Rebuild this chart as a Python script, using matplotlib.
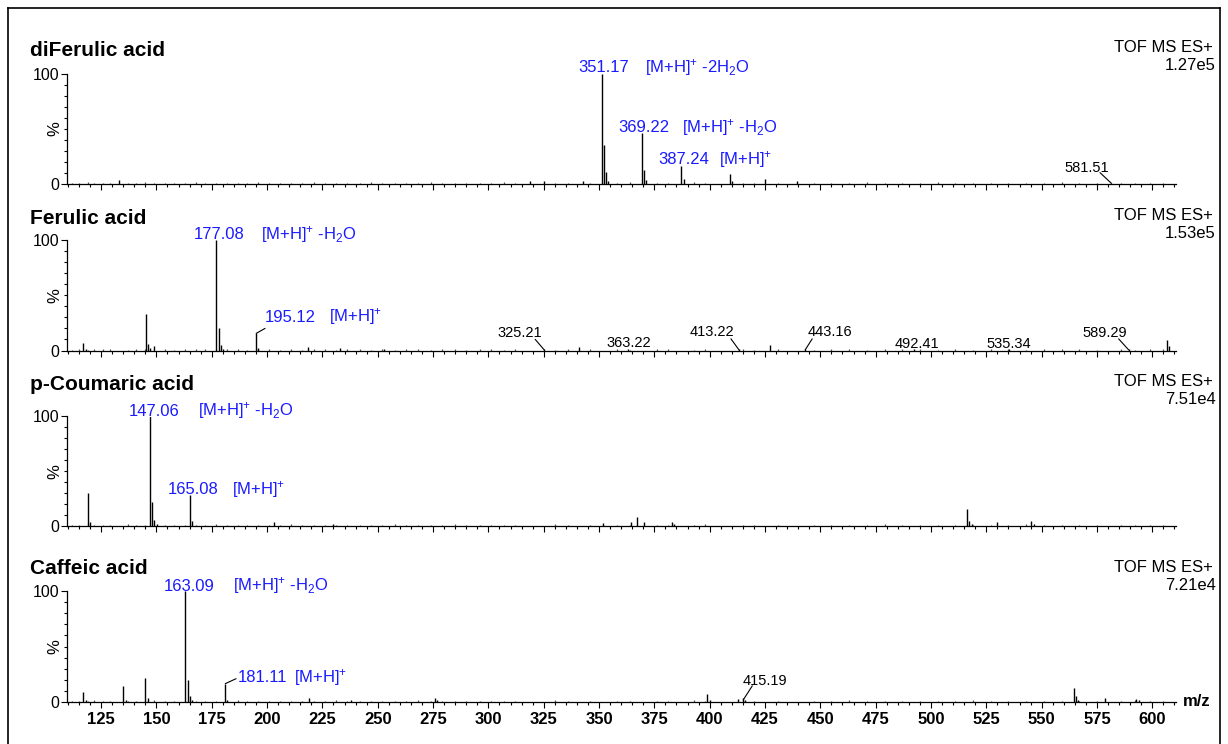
import numpy as np
import matplotlib
matplotlib.use("Agg")
import matplotlib.pyplot as plt
from matplotlib.lines import Line2D

plt.rcParams['font.family'] = ['Liberation Sans', 'DejaVu Sans']
plt.rcParams['mathtext.fontset'] = 'custom'
plt.rcParams['mathtext.rm'] = 'Liberation Sans'
plt.rcParams['mathtext.it'] = 'Liberation Sans:italic'
plt.rcParams['mathtext.bf'] = 'Liberation Sans:bold'

# ---- data (m/z, relative intensity %) ----
names = ['diFerulic acid', 'Ferulic acid', 'p-Coumaric acid', 'Caffeic acid']
scale_labels = ['1.27e5', '1.53e5', '7.51e4', '7.21e4']

diferulic_mz = [133.3, 319, 325, 342.8, 351.17, 352.17, 353.2, 354.2, 369.22, 370.22, 371.2,
                387.24, 388.24, 409.2, 410.2, 425.2, 439.3, 581.51]
diferulic_int = [3.5, 2.5, 3, 2.5, 100, 35, 10.5, 3, 46, 12.5, 4,
                 16.5, 4.5, 9.5, 3, 4.5, 2.5, 1.2]

ferulic_mz = [116.9, 118, 145.3, 146.2, 147.1, 148.8, 177.08, 178.1, 179.1, 180.1, 195.12, 196.1,
              218.3, 233, 253, 325.21, 340.8, 363.22, 413.22, 427.3, 443.16, 492.41, 535.34,
              589.29, 606.6, 607.6]
ferulic_int = [7, 1.5, 33, 6, 2, 4, 100, 20, 5, 1.5, 15.5, 2,
               3.5, 2, 1.5, 1.2, 3, 1.0, 1.2, 5, 1.2, 1.0, 1.0,
               1.2, 9.5, 4]

coumaric_mz = [119.05, 120.05, 147.06, 148.06, 149.06, 150.1, 165.08, 166.08, 203, 230,
               352, 364.5, 367.3, 370.5, 382.8, 384, 516.3, 517.3, 518.3, 530, 545.4, 546.4]
coumaric_int = [30, 4, 100, 22, 5.5, 2, 28, 4.5, 4, 2,
                2.5, 4, 8, 3.5, 3.5, 2, 15.5, 5, 2, 4, 4.5, 2]

caffeic_mz = [117, 118, 135.05, 136.05, 145.05, 146.05, 163.09, 164.09, 165.09, 166.1, 181.11, 182.1,
              219, 238, 275.8, 277, 398.7, 400, 413, 415.19, 416, 564.6, 565.6, 566.6, 578.7,
              592.5, 594]
caffeic_int = [9, 1.5, 14.5, 2, 22, 4, 100, 19.5, 5, 2, 16.5, 2,
               3.6, 2, 4, 2, 7, 2, 3, 4, 2, 13, 5, 2, 4,
               2.5, 1.5]

# small baseline peaks
noise_mz = [112, 115, 119, 122, 126, 129, 137, 141, 145, 149, 154, 158, 163, 168, 172, 177, 182, 187,
            191, 196, 201, 206, 211, 216, 221, 226, 231, 236, 242, 247, 252, 258, 263, 268, 274, 279,
            285, 290, 296, 301, 307, 312, 330, 336, 346, 358, 364, 376, 381, 393, 398, 415, 420, 431,
            447, 455, 463, 471, 479, 487, 495, 503, 511, 519, 527, 535, 543, 551, 559, 567, 575, 586,
            592, 599, 605]
noise1 = [1.2, 0.8, 1.5, 0.9, 1.1, 0.7, 1.3, 0.9, 1.6, 1.0, 0.8, 1.2, 0.9, 1.4, 0.7, 1.1, 1.3, 0.8,
          1.0, 1.5, 0.9, 1.2, 0.7, 1.1, 1.4, 0.8, 1.0, 1.3, 0.9, 1.6, 0.8, 1.1, 1.2, 0.7, 1.5, 1.0,
          0.9, 1.3, 1.1, 0.8, 1.4, 1.0, 1.2, 0.9, 1.3, 1.0, 1.5, 0.8, 1.1, 1.4, 0.9, 1.2, 1.0, 0.8,
          1.3, 0.9, 1.1, 1.5, 0.8, 1.2, 1.0, 1.4, 0.9, 1.1, 1.3, 0.8, 1.2, 0.9, 1.5, 1.0, 0.8, 1.3,
          1.1, 0.9, 1.2]
noise2 = [0.9, 1.3, 0.8, 1.2, 1.5, 1.0, 0.8, 1.4, 1.1, 0.9, 1.2, 0.7, 1.3, 1.0, 1.6, 0.8, 1.1, 1.2,
          0.7, 1.4, 1.0, 0.9, 1.3, 0.8, 1.1, 1.5, 0.9, 1.0, 1.2, 0.8, 1.4, 0.9, 1.1, 1.3, 0.7, 1.2,
          1.0, 0.8, 1.5, 1.1, 0.9, 1.3, 0.8, 1.2, 1.0, 1.4, 0.9, 1.1, 1.3, 0.8, 1.2, 1.0, 0.9, 1.5,
          0.8, 1.1, 1.3, 0.9, 1.2, 1.0, 1.4, 0.8, 1.1, 0.9, 1.2, 1.3, 0.8, 1.0, 1.1, 1.4, 0.9, 1.2,
          0.8, 1.3, 1.0]
noise3 = [1.1, 0.9, 1.4, 0.8, 1.2, 1.0, 1.5, 0.8, 0.9, 1.3, 1.1, 0.8, 1.2, 0.9, 1.0, 1.4, 0.8, 1.1,
          1.3, 0.9, 1.2, 0.8, 1.5, 1.0, 0.9, 1.1, 1.3, 0.8, 1.2, 1.0, 0.9, 1.4, 0.8, 1.1, 1.2, 0.9,
          1.5, 1.0, 0.8, 1.3, 1.1, 0.9, 1.4, 1.0, 0.8, 1.2, 1.1, 1.3, 0.9, 1.0, 1.5, 0.8, 1.2, 1.1,
          0.9, 1.3, 1.0, 0.8, 1.4, 1.1, 0.9, 1.2, 1.3, 0.8, 1.0, 1.1, 1.4, 0.9, 1.2, 0.8, 1.3, 1.0,
          1.1, 0.8, 1.2]
noise4 = [1.0, 1.2, 0.8, 1.4, 0.9, 1.1, 1.3, 0.8, 1.0, 1.5, 0.9, 1.2, 1.1, 0.8, 1.3, 1.0, 0.9, 1.4,
          1.2, 0.8, 1.1, 1.3, 0.9, 1.0, 1.2, 0.8, 1.5, 1.1, 0.9, 1.0, 1.3, 0.8, 1.2, 1.4, 0.9, 1.0,
          1.1, 1.3, 0.8, 1.2, 1.0, 0.9, 1.5, 1.1, 0.8, 1.3, 1.0, 1.2, 0.9, 1.4, 0.8, 1.1, 1.3, 1.0,
          1.2, 0.8, 1.4, 1.0, 0.9, 1.3, 1.1, 0.8, 1.2, 1.5, 0.9, 1.0, 1.3, 1.1, 0.8, 1.2, 1.0, 0.9,
          1.4, 1.1, 0.8]

spectra = [(diferulic_mz, diferulic_int, noise1),
           (ferulic_mz, ferulic_int, noise2),
           (coumaric_mz, coumaric_int, noise3),
           (caffeic_mz, caffeic_int, noise4)]

# blue annotations: (peak m/z, number, suffix)
blue_labels = [
    [(351.17, '351.17', r'[M+H]$^{+}$ -2H$_{2}$O'),
     (369.22, '369.22', r'[M+H]$^{+}$ -H$_{2}$O'),
     (387.24, '387.24', r'[M+H]$^{+}$')],
    [(177.08, '177.08', r'[M+H]$^{+}$ -H$_{2}$O'),
     (195.12, '195.12', r'[M+H]$^{+}$')],
    [(147.06, '147.06', r'[M+H]$^{+}$ -H$_{2}$O'),
     (165.08, '165.08', r'[M+H]$^{+}$')],
    [(163.09, '163.09', r'[M+H]$^{+}$ -H$_{2}$O'),
     (181.11, '181.11', r'[M+H]$^{+}$')],
]
# layout of blue labels in pixels: (number centre dx, baseline dy, suffix left dx, leader end or None)
blue_layout = [
    [(2.5, 1.5, 43.4, None), (2.5, 1.0, 40.5, None), (2.5, 1.7, 37.6, None)],
    [(3.2, 1.0, 44.7, None), (34.3, 11.6, 73.0, (8.8, 5.0))],
    [(4.0, 1.0, 47.9, None), (3.3, 1.0, 42.6, None)],
    [(3.7, 0.4, 48.0, None), (37.3, 1.3, 69.0, (10.8, 5.0))],
]

# black annotations: peak m/z per panel
black_labels = [[581.51], [325.21, 363.22, 413.22, 443.16, 492.41, 535.34, 589.29], [], [415.19]]
# layout in pixels: (label centre dx, baseline dy above axis, leader start (dx, dy) or None)
black_layout = [
    [(-25, 12.3, (-11.4, 10.7))],
    [(-24, 13.8, (-9, 10.5)), (0, 3.5, None), (-27, 14.5, (-8, 11)), (25, 14.5, (7, 11)),
     (3, 2.5, None), (0, 2.5, None), (-24, 14.0, (-10, 11))],
    [],
    [(22, 17.0, (9, 14))],
]

# ---- figure layout ----
W, H = 1228, 744
fig = plt.figure(figsize=(W / 100, H / 100), dpi=100)
BLUE = '#1a1aff'
P = 0.72  # points per pixel

ax_left, ax_right = 67, 1176
panel_px = [(73.5, 184), (240, 350.5), (416.5, 526), (591, 702)]
title_base = [56.5, 223.5, 389.5, 574.5]
tof_y = [47, 215, 382, 567]
scl_y = [65, 233, 400, 585]

xlim = (109.6, 610.7)

for i, (top, bot) in enumerate(panel_px):
    ax = fig.add_axes([ax_left / W, 1 - bot / H, (ax_right - ax_left) / W, (bot - top) / H])
    mz, inten, noise = spectra[i]
    ax.vlines(noise_mz, 0, noise, colors='#555555', lw=0.9)
    ax.vlines(mz, 0, inten, colors='black', lw=1.0)
    ax.set_xlim(*xlim)
    ax.set_ylim(0, 100)
    for s in ['top', 'right']:
        ax.spines[s].set_visible(False)
    for s in ['left', 'bottom']:
        ax.spines[s].set_linewidth(0.9)
    ax.set_xticks(np.arange(125, 601, 25))
    ax.set_xticks(np.arange(110, 611, 5), minor=True)
    ax.set_yticks([0, 100])
    ax.set_yticks(np.arange(0, 101, 10), minor=True)
    ax.tick_params(axis='x', which='major', length=4.5, width=0.8, pad=3)
    ax.tick_params(axis='x', which='minor', length=2.2, width=0.8)
    ax.tick_params(axis='y', which='major', length=4.5, width=0.8, pad=1, labelsize=11.5)
    ax.tick_params(axis='y', which='minor', length=2.2, width=0.8)
    if i < 3:
        ax.set_xticklabels([])
    else:
        ax.set_xticklabels([str(v) for v in range(125, 601, 25)], fontsize=12, fontweight='bold')
    ax.text(-0.011, 0.5, '%', transform=ax.transAxes, rotation=90, ha='center', va='center', fontsize=12)

    lookup = dict(zip(mz, inten))
    for (pk, num, suf), (ndx, ndy, sdx, lead) in zip(blue_labels[i], blue_layout[i]):
        h = lookup[pk]
        ax.annotate(num, xy=(pk, h), xytext=(ndx * P, ndy * P), textcoords='offset points',
                    ha='center', va='baseline', color=BLUE, fontsize=12, annotation_clip=False)
        ax.annotate(suf, xy=(pk, h), xytext=(sdx * P, ndy * P), textcoords='offset points',
                    ha='left', va='baseline', color=BLUE, fontsize=12, annotation_clip=False)
        if lead is not None:
            ax.annotate('', xy=(pk, h), xytext=(lead[0] * P, lead[1] * P), textcoords='offset points',
                        arrowprops=dict(arrowstyle='-', lw=0.8, color='black', shrinkA=0, shrinkB=0),
                        annotation_clip=False)
    for pk, (ldx, ldy, lead) in zip(black_labels[i], black_layout[i]):
        h = lookup[pk]
        ax.annotate(f'{pk:.2f}', xy=(pk, 0), xytext=(ldx * P, ldy * P), textcoords='offset points',
                    ha='center', va='baseline', color='black', fontsize=10.5, annotation_clip=False)
        if lead is not None:
            ax.annotate('', xy=(pk, h * 0.5), xytext=(lead[0] * P, lead[1] * P), textcoords='offset points',
                        arrowprops=dict(arrowstyle='-', lw=0.8, color='black', shrinkA=0, shrinkB=0),
                        annotation_clip=False)

    fig.text(30 / W, 1 - title_base[i] / H, names[i], fontsize=15, fontweight='bold', ha='left', va='baseline')
    fig.text(1213 / W, 1 - tof_y[i] / H, 'TOF MS ES+', fontsize=12, ha='right', va='center')
    fig.text(1216 / W, 1 - scl_y[i] / H, scale_labels[i], fontsize=12, ha='right', va='center')

fig.text(1197 / W, 1 - 702 / H, 'm/z', fontsize=12, fontweight='bold', ha='center', va='center')

# outer frame
fig.add_artist(Line2D([8 / W, 8 / W], [0, 1 - 8 / H], transform=fig.transFigure, color='black', lw=1.2))
fig.add_artist(Line2D([8 / W, 1220 / W], [1 - 8 / H, 1 - 8 / H], transform=fig.transFigure, color='black', lw=1.2))
fig.add_artist(Line2D([1220 / W, 1220 / W], [0, 1 - 8 / H], transform=fig.transFigure, color='black', lw=1.2))

fig.savefig('out.png', dpi=100)
